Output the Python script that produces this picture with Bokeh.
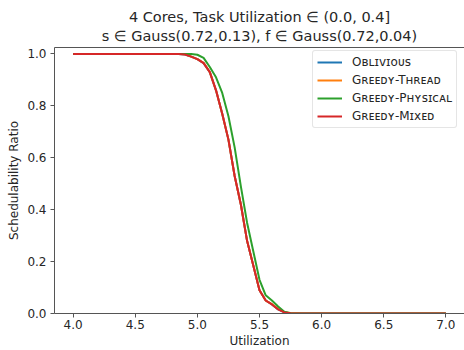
import numpy as np
from bokeh.plotting import figure
from bokeh.models import (Title, FixedTicker, NumeralTickFormatter, Range1d, Legend,
                          LegendItem, LinearAxis)
from bokeh.embed import file_html
from bokeh.resources import INLINE

utilization = [round(4.0 + 0.05 * i, 2) for i in range(61)]

greedy_mixed = [1.0] * 18 + [0.998, 0.99, 0.98, 0.965, 0.93, 0.86, 0.77, 0.67, 0.53, 0.42, 0.28,
                             0.185, 0.09, 0.05, 0.035, 0.016, 0.004, 0.001] + [0.0] * 25
greedy_thread = [1.0] * 18 + [0.999, 0.99, 0.98, 0.966, 0.93, 0.86, 0.77, 0.67, 0.53, 0.42, 0.28,
                              0.186, 0.09, 0.05, 0.036, 0.017, 0.005, 0.002] + [0.001] + [0.0] * 24
oblivious = [1.0] * 18 + [0.998, 0.99, 0.98, 0.965, 0.93, 0.86, 0.77, 0.67, 0.53, 0.42, 0.28,
                          0.185, 0.09, 0.05, 0.035, 0.016, 0.004, 0.001] + [0.0] * 25
greedy_physical = [1.0] * 20 + [0.997, 0.985, 0.95, 0.91, 0.85, 0.76, 0.64, 0.49, 0.35,
                                0.24, 0.13, 0.07, 0.05, 0.027, 0.007, 0.001] + [0.0] * 25

series = [
    ("Oʙʟɪᴠɪᴏᴜs", oblivious, "#1f77b4"),
    ("Gʀᴇᴇᴅʏ-Tʜʀᴇᴀᴅ", greedy_thread, "#ff7f0e"),
    ("Gʀᴇᴇᴅʏ-Pʜʏsɪᴄᴀʟ", greedy_physical, "#2ca02c"),
    ("Gʀᴇᴇᴅʏ-Mɪxᴇᴅ", greedy_mixed, "#d62728"),
]

x_ticks = [4.0, 4.5, 5.0, 5.5, 6.0, 6.5, 7.0]
y_ticks = [0.0, 0.2, 0.4, 0.6, 0.8, 1.0]

FONT = "DejaVu Sans"
TXT = "#262626"
SPINE = "#555555"

p = figure(width=464, height=350, output_backend="svg", toolbar_location=None,
           x_range=Range1d(3.85, 7.15), y_range=Range1d(0.0, 1.025),
           min_border_left=54, min_border_right=0, min_border_top=47, min_border_bottom=0)
p.title = None

bottom_axis = p.below[0]
left_axis = p.left[0]

top_axis = LinearAxis(ticker=FixedTicker(ticks=[]), axis_line_color=SPINE,
                      major_tick_line_color=None, minor_tick_line_color=None,
                      major_label_text_font_size="0px", major_label_standoff=0,
                      major_tick_out=0, major_tick_in=0)
p.add_layout(top_axis, "above")
p.add_layout(Title(text="s ∈ Gauss(0.72,0.13), f ∈ Gauss(0.72,0.04)", align="center",
                   text_font=FONT, text_font_size="14.5px", text_font_style="normal",
                   text_color=TXT, standoff=8), "above")
p.add_layout(Title(text="4 Cores, Task Utilization ∈ (0.0, 0.4]", align="center",
                   text_font=FONT, text_font_size="14.5px", text_font_style="normal",
                   text_color=TXT, standoff=-7), "above")

p.grid.visible = False
p.outline_line_color = None
p.background_fill_color = "white"
p.border_fill_color = "white"

items = []
for name, vals, col in series:
    r = p.line(utilization, vals, line_color=col, line_width=2)
    items.append(LegendItem(label=name, renderers=[r]))

legend = Legend(items=items, location=(258, 185))
legend.label_text_font = FONT
legend.label_text_font_size = "12px"
legend.label_text_color = TXT
legend.glyph_width = 25
legend.glyph_height = 14
legend.label_height = 14
legend.label_standoff = 10
legend.spacing = 4
legend.padding = 4
legend.margin = 0
legend.border_line_color = "#cccccc"
legend.border_line_width = 1
legend.background_fill_alpha = 0.8
legend.border_radius = 3
p.add_layout(legend, "center")

for ax in (bottom_axis, left_axis):
    ax.axis_line_color = SPINE
    ax.major_tick_line_color = SPINE
    ax.minor_tick_line_color = None
    ax.major_tick_out = 4
    ax.major_tick_in = 0
    ax.major_label_text_font = FONT
    ax.major_label_text_font_size = "12px"
    ax.major_label_text_color = TXT
    ax.axis_label_text_font = FONT
    ax.axis_label_text_font_size = "12px"
    ax.axis_label_text_font_style = "normal"
    ax.axis_label_text_color = TXT
    ax.formatter = NumeralTickFormatter(format="0.0")

bottom_axis.ticker = FixedTicker(ticks=x_ticks)
left_axis.ticker = FixedTicker(ticks=y_ticks)
bottom_axis.axis_label = "Utilization"
left_axis.axis_label = "Schedulability Ratio"
bottom_axis.major_label_standoff = 2
left_axis.major_label_standoff = 4
bottom_axis.axis_label_standoff = 2
left_axis.axis_label_standoff = 3

open("out.html", "w").write(file_html(p, INLINE))
